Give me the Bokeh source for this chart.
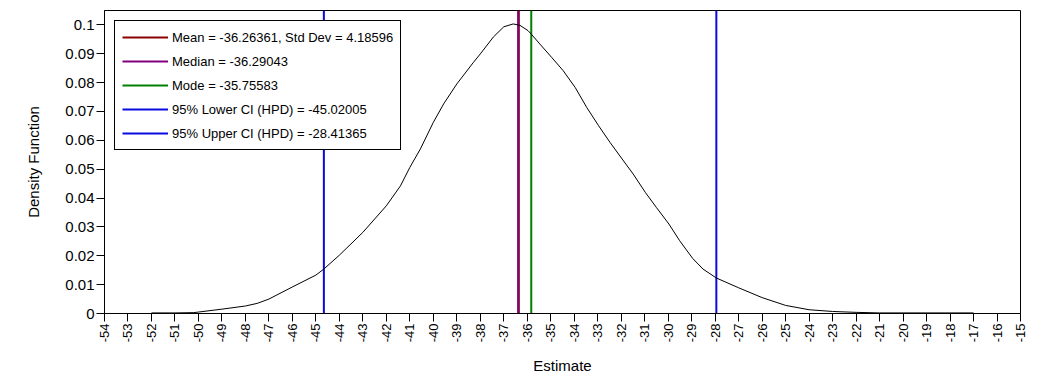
import math
from bokeh.plotting import figure
from bokeh.models import Range1d, FixedTicker, CustomJSTickFormatter, Legend, LegendItem
from bokeh.embed import file_html
from bokeh.resources import INLINE

# Density curve
x_vals = [-52, -51, -50.2, -50, -49, -48, -47.5, -47, -46, -45, -44.66, -44, -43, -42,
          -41.4, -41, -40.55, -40, -39.56, -39, -38.29, -38, -37.44, -37, -36.6,
          -36.31, -35.97, -35.8, -35.46, -34.96, -34.47, -33.96, -33.47, -32.96,
          -32.48, -31.96, -31.49, -30.97, -30.5, -29.97, -29.51, -28.96, -28.52,
          -27.95, -27, -26, -25, -24, -23, -22, -21, -17]
density = [0.0002, 0.0002, 0.0003, 0.0005, 0.0015, 0.0026, 0.0035, 0.005, 0.0092, 0.0133,
           0.0154, 0.0202, 0.0281, 0.0373, 0.0442, 0.0506, 0.057, 0.0662, 0.0726,
           0.0795, 0.087, 0.0899, 0.0958, 0.0993, 0.1003, 0.0998, 0.098, 0.0965,
           0.0933, 0.0887, 0.0841, 0.0783, 0.0714, 0.065, 0.0593, 0.0535, 0.0483,
           0.0419, 0.0367, 0.031, 0.0252, 0.0191, 0.0154, 0.0123, 0.0089, 0.0055,
           0.0028, 0.0013, 0.0007, 0.0004, 0.0002, 0.0002]

# Summary statistic lines
stat_labels = ["Mean = -36.26361, Std Dev = 4.18596",
               "Median = -36.29043",
               "Mode = -35.75583",
               "95% Lower CI (HPD) = -45.02005",
               "95% Upper CI (HPD) = -28.41365"]
stat_positions = [-36.36, -36.39, -35.83, -44.66, -27.95]
stat_colors = ["#8b0000", "#800080", "#008000", "#0a0ae0", "#0a0ae0"]

x_ticks = list(range(-54, -14))
y_ticks = [0, 0.01, 0.02, 0.03, 0.04, 0.05, 0.06, 0.07, 0.08, 0.09, 0.1]

X_MIN, X_MAX = -54, -15
Y_MIN, Y_MAX = 0, 0.10495

FONT = "Liberation Sans"

p = figure(width=1048, height=377, output_backend="svg", toolbar_location=None,
           x_range=Range1d(X_MIN, X_MAX), y_range=Range1d(Y_MIN, Y_MAX),
           min_border_left=104, min_border_right=28, min_border_top=10, min_border_bottom=64)
p.background_fill_color = "white"
p.border_fill_color = "white"
p.outline_line_color = "black"
p.outline_line_width = 1
p.outline_line_alpha = 1
p.xgrid.visible = False
p.ygrid.visible = False

# vertical stat lines
items = []
for lab, pos, col in zip(stat_labels, stat_positions, stat_colors):
    r = p.segment(x0=[pos], y0=[Y_MIN], x1=[pos], y1=[Y_MAX], line_color=col, line_width=2)
    items.append(LegendItem(label=lab, renderers=[r]))

# density curve
p.line(x_vals, density, line_color="black", line_width=1)

legend = Legend(items=items, location="top_left", margin=10, padding=7, spacing=6,
                glyph_width=46, glyph_height=18, label_height=18, label_standoff=4,
                label_text_font=FONT, label_text_font_size="13px", label_text_color="black",
                border_line_color="black", border_line_width=1, border_line_alpha=1,
                background_fill_color="white", background_fill_alpha=1)
p.add_layout(legend, "center")

# axes
xa = p.xaxis[0]
xa.ticker = FixedTicker(ticks=x_ticks)
xa.formatter = CustomJSTickFormatter(code="return String(Math.round(tick));")
xa.major_label_orientation = math.pi / 2
xa.major_tick_out = 8
xa.major_tick_in = 0
xa.minor_tick_out = 0
xa.minor_tick_in = 0
xa.major_label_standoff = 2
xa.major_label_text_font = FONT
xa.major_label_text_font_size = "13px"
xa.major_label_text_color = "black"
xa.axis_line_color = "black"
xa.major_tick_line_color = "black"
xa.axis_label = "Estimate"
xa.axis_label_text_font = FONT
xa.axis_label_text_font_size = "15px"
xa.axis_label_text_font_style = "normal"
xa.axis_label_text_color = "black"
xa.axis_label_standoff = 12

ya = p.yaxis[0]
ya.ticker = FixedTicker(ticks=y_ticks)
ya.formatter = CustomJSTickFormatter(code="return tick === 0 ? '0' : String(+tick.toFixed(2));")
ya.major_label_orientation = "horizontal"
ya.major_tick_out = 8
ya.major_tick_in = 0
ya.minor_tick_out = 0
ya.minor_tick_in = 0
ya.major_label_standoff = 2
ya.major_label_text_font = FONT
ya.major_label_text_font_size = "15px"
ya.major_label_text_color = "black"
ya.axis_line_color = "black"
ya.major_tick_line_color = "black"
ya.axis_label = "Density Function"
ya.axis_label_text_font = FONT
ya.axis_label_text_font_size = "15px"
ya.axis_label_text_font_style = "normal"
ya.axis_label_text_color = "black"
ya.axis_label_standoff = 20

open("out.html", "w").write(file_html(p, INLINE))
